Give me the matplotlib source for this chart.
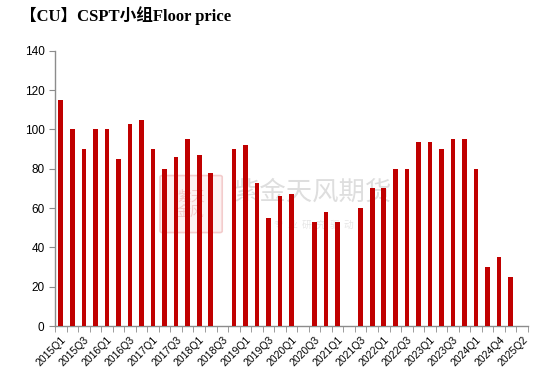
"""CU CSPT Floor price bar chart"""
import matplotlib.pyplot as plt
import matplotlib.patches as mpatches
import numpy as np

quarters = [f"{y}Q{q}" for y in range(2015, 2024) for q in range(1, 5)]
quarters += ["2024Q1", "2024Q3", "2024Q4", "2025Q1", "2025Q2"]

# nan = no floor price agreed for that quarter
floor_price = [115, 100, 90, 100, 100, 85, 103, 105, 90, 80,
               86, 95, 87, 78, np.nan, 90, 92, 73, 55, 66,
               67, np.nan, 53, 58, 53, np.nan, 60, 70, 70, 80,
               80, 93.5, 93.5, 90, 95, 95, 80, 30, 35, 25,
               np.nan]

TITLE = "【CU】CSPT小组Floor price"
BAR_COLOR = "#C00000"
AXIS_COLOR = "#8c8c8c"

fig = plt.figure(figsize=(5.5, 3.85), dpi=100)
ax = fig.add_axes([0.1, 0.153, 0.86, 0.715])

x = np.arange(len(quarters))
ax.bar(x, floor_price, width=0.4, color=BAR_COLOR, zorder=3)

ax.set_xlim(-0.5, len(quarters) - 0.5)
ax.set_ylim(0, 140)
ax.set_yticks(range(0, 141, 20))

ax.set_xticks(x[::2])
ax.set_xticklabels(quarters[::2], rotation=45, ha="right", rotation_mode="anchor",
                   fontsize=7.5, family="Liberation Sans")
ax.set_xticks(np.arange(-0.5, len(quarters)), minor=True)
ax.tick_params(axis="x", which="major", length=0, pad=6)
ax.tick_params(axis="x", which="minor", length=4, color=AXIS_COLOR, direction="out")
ax.tick_params(axis="y", length=4, color=AXIS_COLOR, direction="out", labelsize=8.5)
for lab in ax.get_yticklabels():
    lab.set_family("Liberation Sans")

for side in ["top", "right"]:
    ax.spines[side].set_visible(False)
for side in ["left", "bottom"]:
    ax.spines[side].set_color(AXIS_COLOR)
    ax.spines[side].set_linewidth(1.0)

# faint watermark behind the bars: seal + company name
ft = fig.transFigure
seal = mpatches.FancyBboxPatch((0.295, 0.4), 0.105, 0.14, boxstyle="round,pad=0.004",
                               transform=ft, facecolor="#fdf1f1",
                               edgecolor="#f3cccc", linewidth=1.2, zorder=1)
ax.add_patch(seal)
ax.text(0.347, 0.47, "紫天\n金风", transform=ft, family=["Noto Sans CJK SC"], fontsize=10,
        color="#f3caca", ha="center", va="center", linespacing=1.1, zorder=1)
ax.text(0.57, 0.5, "紫金天风期货", transform=ft, family=["Noto Sans CJK SC"], fontsize=19,
        color="#dedede", ha="center", va="center", zorder=1)
ax.text(0.57, 0.415, "专  业  研  究  驱  动", transform=ft, family=["Noto Sans CJK SC"],
        fontsize=7, color="#e6e6e6", ha="center", va="center", zorder=1)

fig.text(0.036, 0.96, TITLE, family=["Liberation Serif", "Noto Sans CJK SC"],
         fontsize=12, fontweight="bold", ha="left", va="center")

fig.savefig("out.png", dpi=100)
